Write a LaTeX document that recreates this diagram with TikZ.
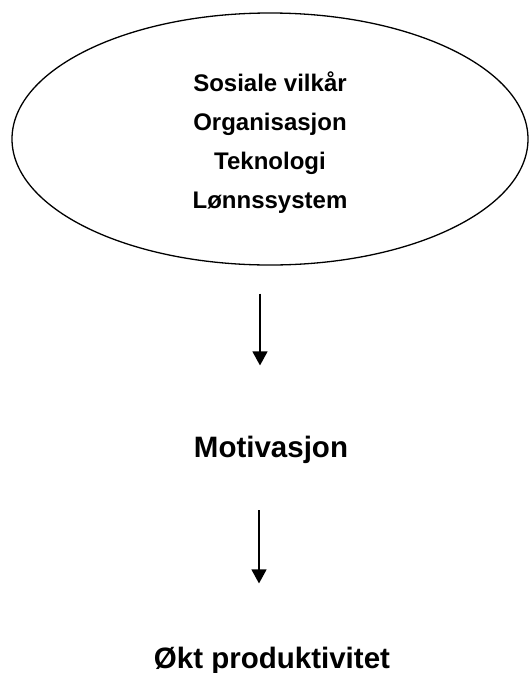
\documentclass[tikz,border=0pt]{standalone}
\usepackage{fontspec}
\setmainfont{Liberation Sans}
\usetikzlibrary{shapes.geometric,arrows.meta}
\tikzset{
    flowarrow/.style={-{Triangle[width=15pt,length=14pt]}, line width=1.3pt},
    bigtext/.style={font=\fontsize{29.5}{35}\selectfont\bfseries, inner sep=0pt, anchor=base}
}
\begin{document}
\begin{tikzpicture}
    \useasboundingbox (0,0) rectangle (529pt,-673pt);

    % Factors ellipse
    \node[draw, ellipse, line width=1.3pt, minimum width=516pt, minimum height=252pt, inner sep=0pt,
          align=center, font=\fontsize{24}{39}\selectfont\bfseries] (factors) at (270pt,-139pt)
          {\rule{0pt}{26pt}Sosiale vilkår\\Organisasjon\\Teknologi\\Lønnssystem};

    % Motivation
    \node[bigtext] (motiv) at (271pt,-457pt) {Motivasjon};

    % Productivity
    \node[bigtext] (prod) at (272pt,-668pt) {Økt produktivitet};

    % Arrows
    \draw[flowarrow, shorten <=28pt, shorten >=70pt] ([xshift=-10pt]factors.south) -- ([xshift=-11pt]motiv.north);
    \draw[flowarrow, shorten <=47pt, shorten >=63pt] ([xshift=-12pt]motiv.south) -- ([xshift=-13pt]prod.north);
\end{tikzpicture}
\end{document}
